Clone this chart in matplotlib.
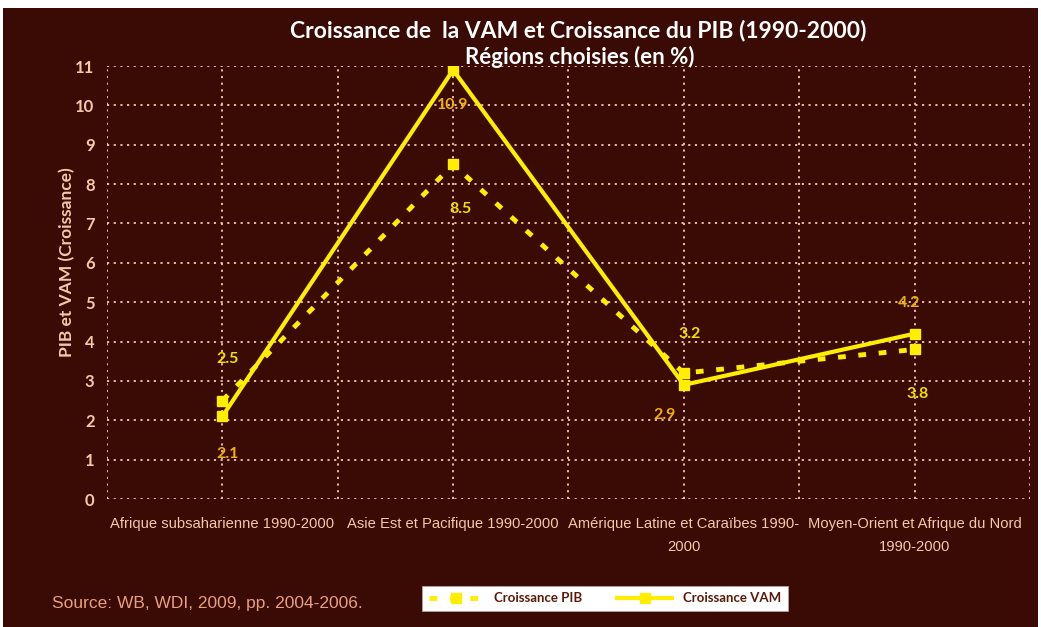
import matplotlib.pyplot as plt
from matplotlib.patches import Rectangle

regions = ['Afrique subsaharienne 1990-2000', 'Asie Est et Pacifique 1990-2000',
           'Amérique Latine et Caraïbes 1990-\n2000', 'Moyen-Orient et Afrique du Nord\n1990-2000']
croissance_pib = [2.5, 8.5, 3.2, 3.8]
croissance_vam = [2.1, 10.9, 2.9, 4.2]
pib_offsets = [(4, 30), (5, -32), (4, 28), (2, -32)]
vam_offsets = [(4, -27), (0, -25), (-14, -22), (-4, 22)]

bg = '#3a0a04'
peach = '#f5c8a8'
yellow = '#ffee00'
sans = 'Liberation Sans'

fig = plt.figure(figsize=(10.41, 6.27), dpi=100, facecolor='white')
fig.patches.append(Rectangle((0.003, 0.0), 0.994, 0.988, transform=fig.transFigure,
                             facecolor=bg, edgecolor='none', zorder=-10))
ax = fig.add_axes([0.1028, 0.2041, 0.8866, 0.6906])
ax.set_facecolor(bg)

xs = [1, 3, 5, 7]
ax.plot(xs, croissance_pib, color=yellow, lw=3.5, linestyle=(0, (1.6, 2.6)),
        marker='s', markersize=6.5, label='Croissance PIB', zorder=3)
ax.plot(xs, croissance_vam, color=yellow, lw=3, marker='s', markersize=6.5,
        label='Croissance VAM', zorder=4)

for x, v, off in zip(xs, croissance_pib, pib_offsets):
    ax.annotate(f'{v}', (x, v), xytext=off, textcoords='offset points', ha='center',
                va='center', color='#f2e000', fontsize=11.5, fontweight='bold', family='Lato')
for x, v, off in zip(xs, croissance_vam, vam_offsets):
    ax.annotate(f'{v}', (x, v), xytext=off, textcoords='offset points', ha='center',
                va='center', color='#f0b000', fontsize=11.5, fontweight='bold', family='Lato')

ax.set_xlim(0, 8)
ax.set_ylim(0, 11)
ax.set_yticks(range(0, 12))
ax.set_xticks(range(0, 9), minor=True)
ax.set_xticks(xs)
ax.set_xticklabels(regions, color=peach, fontsize=10.6, family=sans, linespacing=1.85)
ax.tick_params(axis='x', which='both', length=0, pad=13)
ax.tick_params(axis='y', length=0, pad=9, labelcolor=peach, labelsize=12)
for lbl in ax.get_yticklabels():
    lbl.set_fontweight('bold')
    lbl.set_family('Lato')
ax.grid(True, which='both', color=peach, linestyle=(0, (1.2, 2.5)), lw=1.3)
ax.set_axisbelow(True)
for s in ax.spines.values():
    s.set_visible(False)

ax.set_ylabel('PIB et VAM (Croissance)', color=peach, fontsize=12.5,
              fontweight='bold', family='Lato')
ax.yaxis.set_label_coords(-0.034, 0.547)

fig.text(0.555, 0.952, 'Croissance de  la VAM et Croissance du PIB (1990-2000)',
         ha='center', va='center', color='white', fontsize=16.5, fontweight='bold', family='Lato')
fig.text(0.557, 0.909, 'Régions choisies (en %)', ha='center', va='center',
         color='white', fontsize=16, fontweight='bold', family='Lato')
fig.text(0.05, 0.037, 'Source: WB, WDI, 2009, pp. 2004-2006.', ha='left', va='center',
         color='#e8a080', fontsize=12.5, family=sans)

leg = fig.legend(loc='center', bbox_to_anchor=(0.581, 0.046), ncol=2, frameon=True,
                 fancybox=False, framealpha=1, handlelength=4.2, columnspacing=2.6,
                 borderpad=0.5, prop={'family': 'Lato', 'weight': 'bold', 'size': 9.5})
leg.get_frame().set_facecolor('white')
leg.get_frame().set_edgecolor('#c0a0a0')
leg.get_frame().set_linewidth(0.6)
for t in leg.get_texts():
    t.set_color('#5a1a0a')

fig.savefig('out.png', dpi=100, facecolor=fig.get_facecolor())
